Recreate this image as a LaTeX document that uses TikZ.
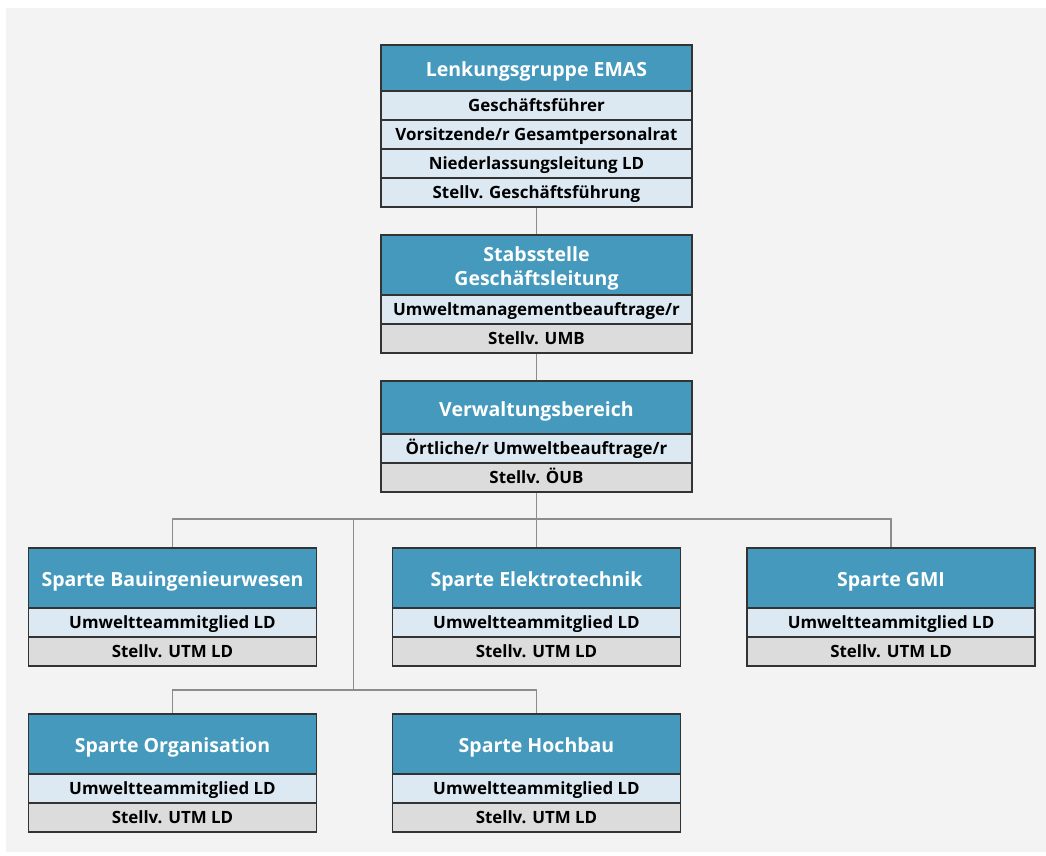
\documentclass[tikz,border=0pt]{standalone}
\usepackage{fontspec}
\setmainfont{Open Sans}
\definecolor{bgc}{HTML}{F3F3F3}
\definecolor{headc}{HTML}{4499BD}
\definecolor{rowc}{HTML}{DCE9F3}
\definecolor{greyc}{HTML}{DCDCDC}
\definecolor{edgec}{HTML}{333333}
\definecolor{linec}{HTML}{8C8C8C}
\tikzset{
  boxbase/.style={draw=edgec, line width=1.2pt, inner sep=0pt, align=center, font=\bfseries},
  headbox/.style={boxbase, fill=headc, text=white, font=\bfseries\fontsize{19.5}{24.5}\selectfont, text height=22pt, text depth=4.7pt},
  twoline/.style={text height=46pt, text depth=4.7pt},
  rowbox/.style={boxbase, fill=rowc, text=black, minimum height=29pt, font=\bfseries\fontsize{16.9}{19}\selectfont, text height=15.6pt, text depth=4pt},
  greybox/.style={rowbox, fill=greyc},
  wide/.style={minimum width=311pt},
  narrow/.style={minimum width=288pt},
  conn/.style={draw=linec, line width=1.4pt}
}
\begin{document}
\begin{tikzpicture}[x=1pt,y=-1pt]
\fill[white] (0,0) rectangle (1046,856);
\fill[bgc] (6,8) rectangle (1046,852);
\useasboundingbox (0,0) rectangle (1046,856);

\coordinate (jt) at (536.5,519);
\coordinate (jm) at (353.5,519);
\coordinate (jb) at (353.5,690);

% top box
\node[headbox, wide, minimum height=46pt] (lh) at (536.5,68) {Lenkungsgruppe EMAS};
\node[rowbox, wide] (l1) at (536.5,105.5) {Geschäftsführer};
\node[rowbox, wide] (l2) at (536.5,134.5) {Vorsitzende/r Gesamtpersonalrat};
\node[rowbox, wide] (l3) at (536.5,163.5) {Niederlassungsleitung LD};
\node[rowbox, wide] (l4) at (536.5,192.5) {Stellv. Geschäftsführung};

% Stabsstelle
\node[headbox, twoline, wide, minimum height=60pt] (sh) at (536.5,265) {Stabsstelle\\Geschäftsleitung};
\node[rowbox, wide] (s1) at (536.5,309.5) {Umweltmanagementbeauftrage/r};
\node[greybox, wide] (s2) at (536.5,338.5) {Stellv. UMB};

% Verwaltungsbereich
\node[headbox, wide, minimum height=53pt] (vh) at (536.5,407.5) {Verwaltungsbereich};
\node[rowbox, wide] (v1) at (536.5,448.5) {Örtliche/r Umweltbeauftrage/r};
\node[greybox, wide] (v2) at (536.5,477.5) {Stellv. ÖUB};

% row 2
\node[headbox, narrow, minimum height=60pt] (bh) at (172.5,578) {Sparte Bauingenieurwesen};
\node[rowbox, narrow] (b1) at (172.5,622.5) {Umweltteammitglied LD};
\node[greybox, narrow] (b2) at (172.5,651.5) {Stellv. UTM LD};

\node[headbox, narrow, minimum height=60pt] (eh) at (536.5,578) {Sparte Elektrotechnik};
\node[rowbox, narrow] (e1) at (536.5,622.5) {Umweltteammitglied LD};
\node[greybox, narrow] (e2) at (536.5,651.5) {Stellv. UTM LD};

\node[headbox, narrow, minimum height=60pt] (gh) at (891,578) {Sparte GMI};
\node[rowbox, narrow] (g1) at (891,622.5) {Umweltteammitglied LD};
\node[greybox, narrow] (g2) at (891,651.5) {Stellv. UTM LD};

% row 3
\node[headbox, narrow, minimum height=60pt] (oh) at (172.5,744) {Sparte Organisation};
\node[rowbox, narrow] (o1) at (172.5,788.5) {Umweltteammitglied LD};
\node[greybox, narrow] (o2) at (172.5,817.5) {Stellv. UTM LD};

\node[headbox, narrow, minimum height=60pt] (hh) at (536.5,744) {Sparte Hochbau};
\node[rowbox, narrow] (h1) at (536.5,788.5) {Umweltteammitglied LD};
\node[greybox, narrow] (h2) at (536.5,817.5) {Stellv. UTM LD};

% connectors
\draw[conn] (l4.south) -- (sh.north);
\draw[conn] (s2.south) -- (vh.north);
\draw[conn] (v2.south) -- (eh.north);
\draw[conn] (bh.north) |- (jt) -| (gh.north);
\draw[conn] (jm) -- (jb);
\draw[conn] (oh.north) |- (jb) -| (hh.north);
\end{tikzpicture}
\end{document}
